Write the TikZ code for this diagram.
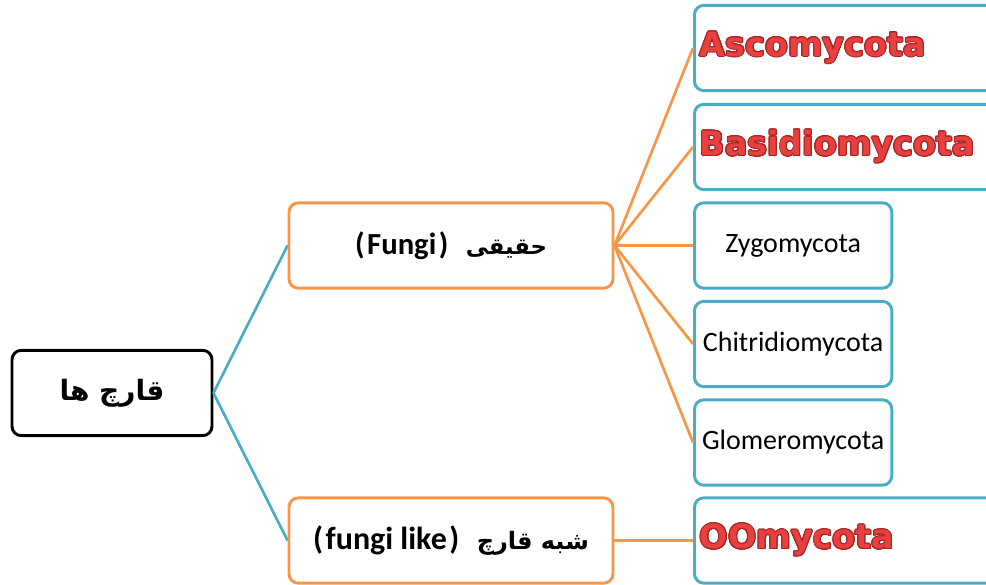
\documentclass[tikz,border=0pt]{standalone}
\usepackage{fontspec}
\setmainfont{Carlito}
\newfontfamily\arabicfont[Script=Arabic]{DejaVu Sans}
\newfontfamily\heavyfont{DejaVu Sans}
\TeXXeTstate=1
\usepackage{contour}
\contourlength{0.7pt}
\usetikzlibrary{positioning}

\definecolor{tealline}{HTML}{4BACC6}
\definecolor{orangeline}{HTML}{F79646}
\definecolor{redtext}{HTML}{E8403F}
\definecolor{darkred}{HTML}{A82426}

\tikzset{
  rootbox/.style={draw=black, line width=2.2pt, rounded corners=7pt, fill=white,
    minimum width=150pt, minimum height=64pt},
  groupbox/.style={draw=orangeline, line width=2.2pt, rounded corners=7pt, fill=white,
    minimum width=243pt, minimum height=64pt},
  phylumbox/.style={draw=tealline, line width=2.2pt, rounded corners=7pt, fill=white,
    minimum width=148pt, minimum height=64pt, anchor=west,
    font=\fontsize{21}{24}\selectfont},
  widebox/.style={phylumbox, minimum width=240pt, text width=232pt, align=left,
    inner xsep=4pt, font=\heavyfont\bfseries\fontsize{25}{29}\selectfont},
  blueline/.style={draw=tealline, line width=2pt},
  orangeedge/.style={draw=orangeline, line width=2pt},
}
\newcommand{\redname}[1]{\contour{darkred}{\textcolor{redtext}{#1}}}
\newcommand{\fasize}[1]{\arabicfont\bfseries\fontsize{#1}{#1}\selectfont}

\begin{document}
\begin{tikzpicture}[x=0.75pt,y=0.75pt,yscale=-1,xscale=1]
        \useasboundingbox (0,0) rectangle (986,585);
        \clip (0,0) rectangle (986,585);

        %Rounded Rect [root]
        \node[rootbox] (fungi_all) at (112,393) {{\fasize{21}\beginR قارچ ها\endR}};
        %Rounded Rect [true fungi]
        \node[groupbox, font=\bfseries\fontsize{23}{26}\selectfont] (fungi_true) at (451,245.5)
          {(\hspace{2pt}Fungi\hspace{2pt})\hspace{13pt}{\fasize{17}\beginR حقیقی\endR}};
        %Rounded Rect [fungi like]
        \node[groupbox, font=\bfseries\fontsize{24}{27}\selectfont] (fungi_like) at (451,540.5)
          {(\hspace{2pt}fungi like\hspace{2pt})\hspace{13pt}{\fasize{18}\beginR شبه قارچ\endR}};

        %Rounded Rect [phyla]
        \node[widebox] (asco) at (693,48) {\redname{Ascomycota}};
        \node[widebox] (basidio) at (693,147) {\redname{Basidiomycota}};
        \node[phylumbox] (zygo) at (693,245.5) {Zygomycota};
        \node[phylumbox] (chitri) at (693,344) {Chitridiomycota};
        \node[phylumbox] (glomero) at (693,442.5) {Glomeromycota};
        \node[widebox] (oomy) at (693,540.5) {\redname{OOmycota}};

        %Straight Lines
        \draw[blueline] (fungi_all.east) -- (fungi_true.west) ;
        \draw[blueline] (fungi_all.east) -- (fungi_like.west) ;
        %Straight Lines
        \draw[orangeedge] (fungi_true.east) -- (asco.west) ;
        \draw[orangeedge] (fungi_true.east) -- (basidio.west) ;
        \draw[orangeedge] (fungi_true.east) -- (zygo.west) ;
        \draw[orangeedge] (fungi_true.east) -- (chitri.west) ;
        \draw[orangeedge] (fungi_true.east) -- (glomero.west) ;
        \draw[orangeedge] (fungi_like.east) -- (oomy.west) ;

    \end{tikzpicture}
\end{document}
